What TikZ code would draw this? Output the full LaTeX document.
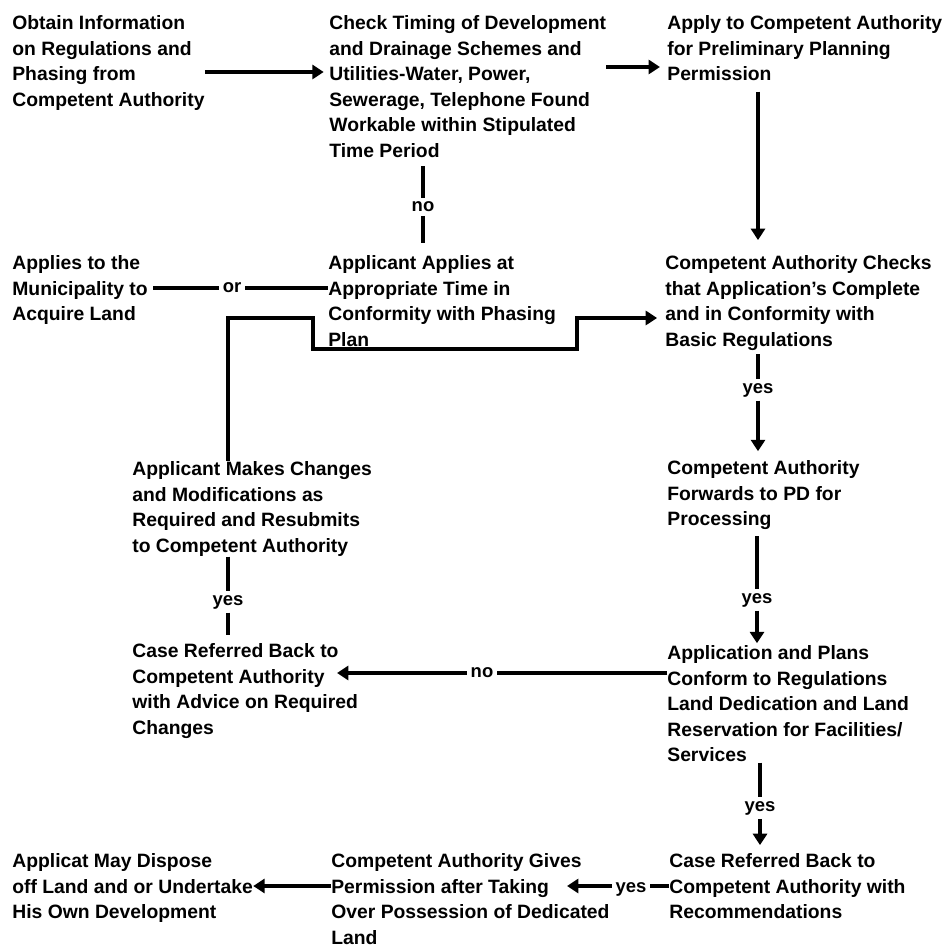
\documentclass[tikz,border=0pt]{standalone}
\usepackage{fontspec}
\setmainfont{Liberation Sans}
\usetikzlibrary{arrows.meta}

\begin{document}
\begin{tikzpicture}[x=0.02cm, y=-0.02cm,
  box/.style={anchor=north west, align=left, inner sep=0pt,
    font=\bfseries\fontsize{11}{14.6}\selectfont},
  tag/.style={inner sep=2pt, font=\bfseries\fontsize{10.5}{12}\selectfont},
  link/.style={line width=2.2pt},
  arrow/.style={link, -{Triangle[length=6.5pt,width=8pt]}}]
  \useasboundingbox (0,0) rectangle (950,949);

  % first row
  \node[box] (obtain) at (12,15) {Obtain Information\\on Regulations and\\Phasing from\\Competent Authority};
  \node[box] (check) at (329,15) {Check Timing of Development\\and Drainage Schemes and\\Utilities-Water, Power,\\Sewerage, Telephone Found\\Workable within Stipulated\\Time Period};
  \node[box] (apply) at (667,15) {Apply to Competent Authority\\for Preliminary Planning\\Permission};

  % second row
  \node[box] (municipal) at (12,255) {Applies to the\\Municipality to\\Acquire Land};
  \node[box] (applicant) at (328,255) {Applicant Applies at\\Appropriate Time in\\Conformity with Phasing\\Plan};
  \node[box] (checks) at (665,255) {Competent Authority Checks\\that Application's Complete\\and in Conformity with\\Basic Regulations};

  % third row
  \node[box] (changes) at (132,461) {Applicant Makes Changes\\and Modifications as\\Required and Resubmits\\to Competent Authority};
  \node[box] (forwards) at (667,460) {Competent Authority\\Forwards to PD for\\Processing};

  % fourth row
  \node[box] (advice) at (132,643) {Case Referred Back to\\Competent Authority\\with Advice on Required\\Changes};
  \node[box] (conform) at (667,645) {Application and Plans\\Conform to Regulations\\Land Dedication and Land\\Reservation for Facilities/\\Services};

  % last row
  \node[box] (dispose) at (12,853) {Applicat May Dispose\\off Land and or Undertake\\His Own Development};
  \node[box] (gives) at (331,853) {Competent Authority Gives\\Permission after Taking\\Over Possession of Dedicated\\Land};
  \node[box] (recommend) at (669,853) {Case Referred Back to\\Competent Authority with\\Recommendations};

  % top row arrows
  \draw[arrow, shorten >=3pt] (obtain.east |- 0,72) -- (check.west |- 0,72);
  \draw[arrow, shorten >=4pt] (check.east |- 0,67) -- (apply.west |- 0,67);

  % timing not workable
  \node[tag] (no1) at (423,207) {no};
  \draw[link, shorten <=4.5pt] (check.south -| no1) -- (no1);
  \draw[link, shorten >=7pt] (no1) -- (applicant.north -| no1);

  % apply -> checks
  \draw[arrow, shorten <=6pt, shorten >=8.5pt] (apply.south -| 758,0) -- (checks.north -| 758,0);

  % municipality alternative
  \node[tag] (or1) at (232,288) {or};
  \draw[link, shorten <=3pt] (municipal.east |- or1) -- (or1);
  \draw[link] (or1) -- (applicant.west |- or1);

  % resubmission back to checks
  \draw[arrow, shorten >=4.5pt] (changes.north -| 228,0) |- (313,318) |- (577,349) |- (checks.west |- 0,318);

  % checks -> forwards
  \node[tag] (yes1) at (758,390) {yes};
  \draw[link, shorten <=2pt] (checks.south -| yes1) -- (yes1);
  \draw[arrow, shorten >=5pt] (yes1) -- (forwards.north -| yes1);

  % forwards -> conform
  \node[tag] (yes2) at (757,600) {yes};
  \draw[link, shorten <=3.5pt] (forwards.south -| yes2) -- (yes2);
  \draw[arrow, shorten >=1pt] (yes2) -- (conform.north -| yes2);

  % not conforming
  \node[tag] (no2) at (482,673) {no};
  \coordinate (advice in) at (337,673);
  \draw[link] (conform.west |- no2) -- (no2);
  \draw[arrow] (no2) -- (advice in);

  % changes and advice
  \node[tag] (yes3) at (228,602) {yes};
  \draw[link] (changes.south -| yes3) -- (yes3);
  \draw[link, shorten >=4.5pt] (yes3) -- (advice.north -| yes3);

  % conform -> recommend
  \node[tag] (yes4) at (760,808) {yes};
  \draw[link] (conform.south -| yes4) -- (yes4);
  \draw[arrow, shorten >=4.5pt] (yes4) -- (recommend.north -| yes4);

  % bottom row arrows
  \node[tag] (yes5) at (631,889) {yes};
  \coordinate (gives in) at (567,886);
  \draw[link] (recommend.west |- 0,886) -- (yes5.east |- 0,886);
  \draw[arrow] (yes5.west |- 0,886) -- (gives in);
  \draw[arrow] (gives.west |- 0,886) -- (dispose.east |- 0,886);
\end{tikzpicture}
\end{document}
